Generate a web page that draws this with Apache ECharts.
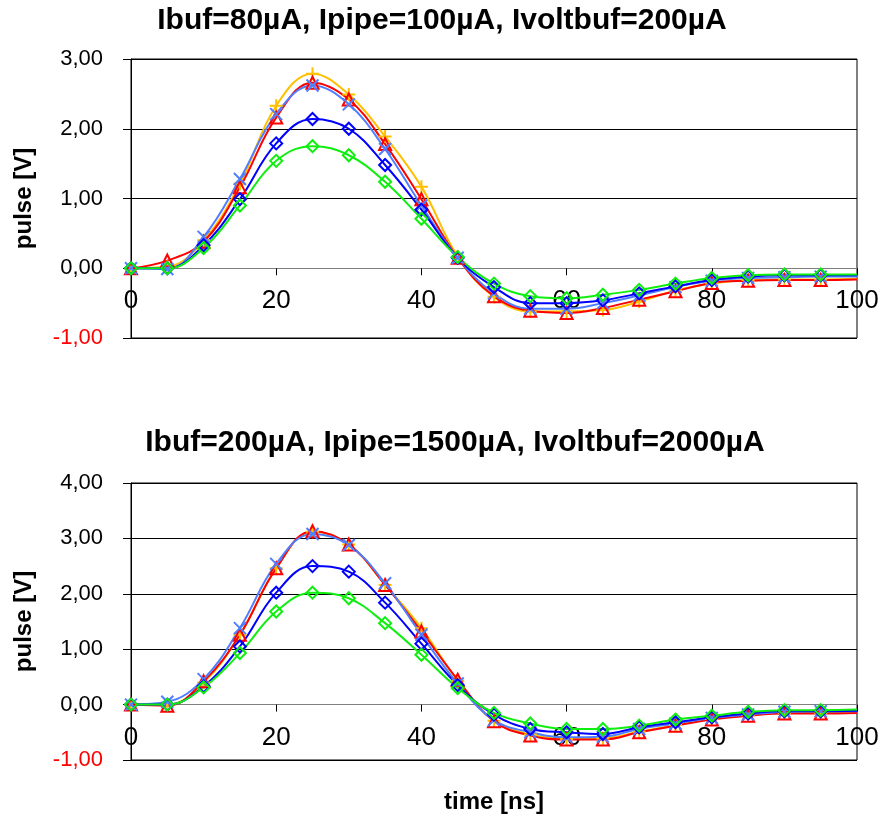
<!DOCTYPE html>
<html><head><meta charset="utf-8">
<script src="https://cdn.jsdelivr.net/npm/echarts@6/dist/echarts.min.js"></script>
<style>html,body{margin:0;padding:0;background:#fff}#c{width:882px;height:817px}</style>
</head><body><div id="c"></div>
<script>
// time axis [ns]
const times = [0,5,10,15,20,25,30,35,40,45,50,55,60,65,70,75,80,85,90,95,100];

// Top panel: Ibuf=80µA, Ipipe=100µA, Ivoltbuf=200µA
const titleTop = 'Ibuf=80µA, Ipipe=100µA, Ivoltbuf=200µA';
const yellowTop = [0,0.02,0.40,1.21,2.33,2.79,2.49,1.89,1.17,0.17,-0.41,-0.62,-0.62,-0.60,-0.48,-0.32,-0.22,-0.17,-0.16,-0.16,-0.15];
const redTop    = [0,0.11,0.38,1.16,2.16,2.66,2.42,1.78,0.99,0.15,-0.40,-0.61,-0.64,-0.57,-0.45,-0.33,-0.21,-0.18,-0.17,-0.17,-0.16];
const lblueTop  = [0,-0.01,0.45,1.28,2.21,2.62,2.35,1.71,0.90,0.15,-0.36,-0.58,-0.58,-0.50,-0.39,-0.27,-0.18,-0.14,-0.13,-0.12,-0.12];
const blueTop   = [0,0.00,0.33,0.99,1.79,2.14,2.00,1.48,0.84,0.15,-0.27,-0.50,-0.50,-0.46,-0.36,-0.26,-0.17,-0.12,-0.10,-0.10,-0.10];
const greenTop  = [0,0.00,0.29,0.90,1.54,1.75,1.62,1.24,0.71,0.16,-0.22,-0.40,-0.43,-0.38,-0.31,-0.22,-0.14,-0.10,-0.09,-0.09,-0.09];

// Bottom panel: Ibuf=200µA, Ipipe=1500µA, Ivoltbuf=2000µA
const titleBottom = 'Ibuf=200µA, Ipipe=1500µA, Ivoltbuf=2000µA';
const yellowBot = [0,0.00,0.40,1.26,2.46,3.12,2.89,2.16,1.38,0.43,-0.29,-0.54,-0.62,-0.61,-0.49,-0.37,-0.26,-0.19,-0.15,-0.15,-0.14];
const redBot    = [0,-0.02,0.42,1.26,2.46,3.13,2.89,2.16,1.32,0.45,-0.30,-0.56,-0.63,-0.63,-0.50,-0.38,-0.27,-0.20,-0.16,-0.16,-0.15];
const lblueBot  = [0,0.05,0.46,1.38,2.54,3.08,2.88,2.19,1.26,0.38,-0.28,-0.50,-0.59,-0.58,-0.44,-0.34,-0.24,-0.18,-0.13,-0.12,-0.12];
const blueBot   = [0,0.00,0.33,1.05,2.02,2.50,2.40,1.84,1.10,0.35,-0.18,-0.44,-0.50,-0.53,-0.41,-0.32,-0.23,-0.16,-0.12,-0.12,-0.11];
const greenBot  = [0,0.00,0.31,0.93,1.68,2.02,1.92,1.47,0.90,0.30,-0.15,-0.34,-0.44,-0.44,-0.38,-0.27,-0.20,-0.13,-0.10,-0.10,-0.09];

const yName = 'pulse [V]';
const xName = 'time [ns]';

const FONT = "'Liberation Sans', Arial, sans-serif";
const PLUS = 'path://M5,0L5,10M0,5L10,5';
const CROSS = 'path://M0,0L10,10M10,0L0,10';

const styles = [
  {color:'#FFC000', symbol:PLUS, size:13},
  {color:'#FF0000', symbol:'triangle', size:12},
  {color:'#4F7FFF', symbol:CROSS, size:12},
  {color:'#0000FF', symbol:'diamond', size:12},
  {color:'#10EE10', symbol:'diamond', size:12}
];

const grids = [
  {left:131, right:25, top:59, height:279},
  {left:131, right:25, top:483, height:277}
];
const yMax = [3, 4];

function mk(vals, st, gi){
  return {
    type:'line', xAxisIndex:gi, yAxisIndex:gi, smooth:0.4,
    symbol:st.symbol, symbolSize:st.size, showAllSymbol:true,
    lineStyle:{color:st.color, width:2},
    itemStyle:{color:'rgba(0,0,0,0)', borderColor:st.color, borderWidth:2},
    emphasis:{disabled:true},
    data: times.map((t,i)=> i===times.length-1 ? {value:[t,vals[i]], symbol:'none'} : [t,vals[i]])
  };
}

function yAx(gi){
  const max = yMax[gi];
  const cols = [];
  for (let v=-1; v<=max; v++) cols.push(v===0 ? '#808080' : '#000000');
  return {
    type:'value', gridIndex:gi, min:-1, max:max, interval:1,
    name:yName, nameLocation:'middle', nameGap:95, nameRotate:90,
    nameTextStyle:{fontFamily:FONT, fontSize:24, fontWeight:'bold', color:'#000'},
    axisLine:{show:true, onZero:false, lineStyle:{color:'#000', width:1}},
    axisTick:{show:true, length:8, lineStyle:{color:'#000'}},
    axisLabel:{margin:28, fontFamily:FONT, fontSize:22,
      color:(v)=> Number(v)<0 ? '#FF0000' : '#000000',
      formatter:(v)=> Number(v).toFixed(2).replace('.',',')},
    splitLine:{show:true, lineStyle:{color:cols, width:1}}
  };
}
function xAx(gi){
  // place the x axis at the y=0 line (distance from bottom edge of grid)
  const g = grids[gi];
  const off = -g.height * 1 / (yMax[gi] + 1);
  return {
    type:'value', gridIndex:gi, min:0, max:100, interval:20,
    position:'bottom', offset:off,
    axisLine:{show:true, onZero:false, lineStyle:{color:'#808080', width:1}},
    axisTick:{show:true, length:7, lineStyle:{color:'#000'}},
    axisLabel:{margin:20, fontFamily:FONT, fontSize:26, color:'#000'},
    splitLine:{show:false}
  };
}

const series = [];
[yellowTop, redTop, lblueTop, blueTop, greenTop].forEach((v,i)=>series.push(mk(v, styles[i], 0)));
[yellowBot, redBot, lblueBot, blueBot, greenBot].forEach((v,i)=>series.push(mk(v, styles[i], 1)));

const titleStyle = {fontFamily:FONT, fontSize:30, fontWeight:'bold', fill:'#000', align:'center', verticalAlign:'middle'};
const chart = echarts.init(document.getElementById('c'), null, {renderer:'canvas'});
chart.setOption({
  animation:false,
  backgroundColor:'#fff',
  graphic:[
    {type:'text', x:442, y:21, style:Object.assign({text:titleTop}, titleStyle)},
    {type:'text', x:455, y:443, style:Object.assign({text:titleBottom}, titleStyle)},
    {type:'text', x:494, y:802, style:{text:xName, fontFamily:FONT, fontSize:24, fontWeight:'bold', fill:'#000', align:'center', verticalAlign:'middle'}}
  ],
  grid:grids.map(g=>Object.assign({show:true, borderColor:'#000', borderWidth:1}, g)),
  xAxis:[xAx(0), xAx(1)],
  yAxis:[yAx(0), yAx(1)],
  series:series
});
</script></body></html>
